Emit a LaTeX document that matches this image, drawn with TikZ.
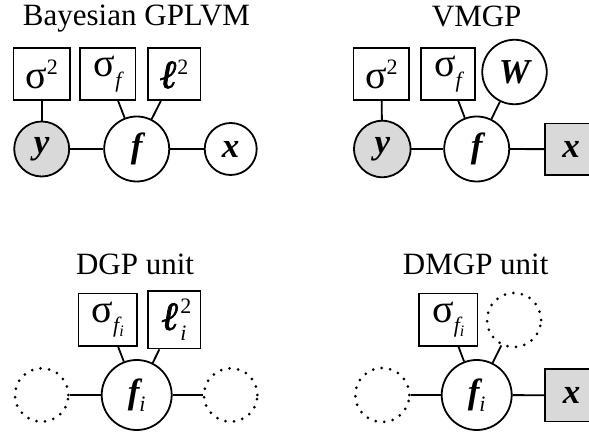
\documentclass[tikz,border=0pt]{standalone}
\usepackage{fontspec}
\setmainfont{Liberation Serif}
\newfontfamily\ellfont[FakeBold=1.8]{Liberation Serif}
\newcommand\sups[1]{\raisebox{0.40em}{\fontsize{22}{22}\selectfont #1}}
\newcommand\subs[1]{\raisebox{-0.22em}{\fontsize{22}{22}\selectfont #1}}
\newcommand\subsub[1]{\raisebox{-0.18em}{\fontsize{16}{16}\selectfont #1}}
\newcommand\bi[1]{{\bfseries\itshape #1}}
\newcommand\sg{{\fontsize{40}{40}\selectfont σ}}
\newcommand\bell{{\ellfont\bfseries\itshape\fontsize{40}{40}\selectfont ℓ}}
\begin{document}
\begin{tikzpicture}[x=1pt,y=-1pt,
  every node/.style={font=\fontsize{35}{40}\selectfont, inner sep=0pt},
  lw/.style={line width=1.8pt},
  box/.style={lw, draw, rectangle, minimum width=#1},
  obs/.style={fill=black!15},
  var/.style={lw, draw, circle, fill=white, minimum size=#1},
  ghost/.style={draw, circle, minimum size=#1, line width=3pt, line cap=round, dash pattern=on 0pt off 8.6pt},
  title/.style={anchor=base, font=\fontsize{31}{36}\selectfont},
  edge/.style={lw}]
\clip (0,0) rectangle (589,435);
% ---------- Bayesian GPLVM ----------
\node[title] (t1) at (136.5,25.5) {Bayesian GPLVM};
\node[box=56.5, minimum height=51.5] (s2a) at (41.7,74) {\sg\sups{2}};
\node[box=55.5, minimum height=51.5] (sfa) at (107.7,74) {\raisebox{0.08em}{\sg}\subs{\itshape f}};
\node[box=52.5, minimum height=51.5] (l2a) at (174.3,74) {\bell\sups{2}};
\node[var=55, obs] (ya) at (41.7,149) {\bi{y}};
\node[var=65] (fa) at (136.7,149) {\bi{f}};
\node[var=52] (xa) at (230.7,149) {\bi{x}};
\draw[edge] (s2a) -- (ya);
\draw[edge] (sfa) -- (fa);
\draw[edge] (l2a) -- (fa);
\draw[edge] (ya) -- (fa);
\draw[edge] (fa) -- (xa);
% ---------- VMGP ----------
\node[title] (t2) at (476.7,26.5) {VMGP};
\node[box=55.5, minimum height=51.5] (s2b) at (381.3,74) {\sg\sups{2}};
\node[box=54.5, minimum height=51.5] (sfb) at (448,74) {\raisebox{0.08em}{\sg}\subs{\itshape f}};
\node[var=64.5] (Wb) at (514.5,72) {\bi{W}};
\node[var=56.5, obs] (yb) at (382.3,149) {\bi{y}};
\node[var=65] (fb) at (476.7,149) {\bi{f}};
\node[box=51.5, minimum height=51.5, obs] (xb) at (571,149.2) {\bi{x}};
\draw[edge] (s2b) -- (yb);
\draw[edge] (sfb) -- (fb);
\draw[edge] (Wb) -- (fb);
\draw[edge] (yb) -- (fb);
\draw[edge] (fb) -- (xb);
% ---------- DGP unit ----------
\node[title] (t3) at (135,274.3) {DGP unit};
\node[box=58.5, minimum height=52.5] (sfc) at (107.7,319.7) {\raisebox{0.08em}{\sg}\subs{\itshape f\subsub{i}}};
\node[box=52.5, minimum height=57.5] (l2c) at (174.2,319.7) {\bell\kern1.5pt\makebox[0pt][l]{\raisebox{0.47em}{\fontsize{22}{22}\selectfont 2}}\raisebox{-0.30em}{\fontsize{22}{22}\selectfont\itshape i}\hspace{0.4em}};
\node[var=70] (fc) at (136.7,395) {\bi{f}\subs{\itshape i}};
\node[ghost=53.4] (gl) at (41.7,395) {};
\node[ghost=53.4] (gr) at (230.7,395) {};
\draw[edge] (sfc) -- (fc);
\draw[edge] (l2c) -- (fc);
\draw[edge] (gl) -- (fc);
\draw[edge] (fc) -- (gr);
% ---------- DMGP unit ----------
\node[title] (t4) at (475.7,274.3) {DMGP unit};
\node[box=58.5, minimum height=52.5] (sfd) at (448.3,319.7) {\raisebox{0.08em}{\sg}\subs{\itshape f\subsub{i}}};
\node[ghost=54] (gt) at (514,320) {};
\node[ghost=54] (gd) at (382.3,395) {};
\node[var=70] (fd) at (476.7,395) {\bi{f}\subs{\itshape i}};
\node[box=52.5, minimum height=52.5, obs] (xd) at (571.5,395.3) {\bi{x}};
\draw[edge] (sfd) -- (fd);
\draw[edge] (gt) -- (fd);
\draw[edge] (gd) -- (fd);
\draw[edge] (fd) -- (xd);
\end{tikzpicture}
\end{document}
